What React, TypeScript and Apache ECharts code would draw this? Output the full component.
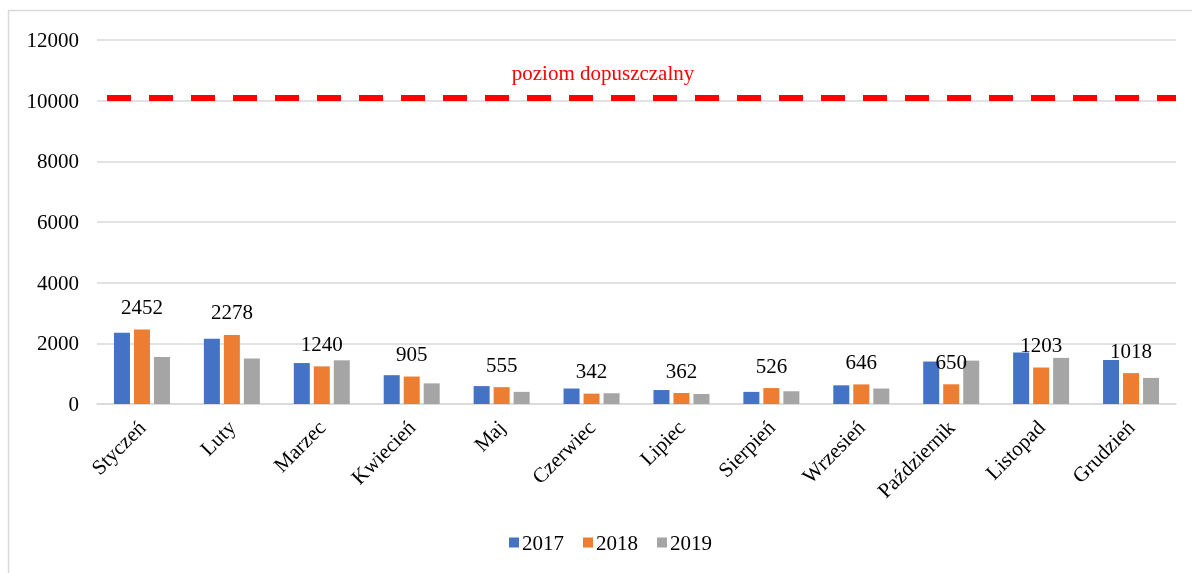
import React, { useEffect, useRef } from "react";
import * as echarts from "echarts";

const categories = ["Styczeń", "Luty", "Marzec", "Kwiecień", "Maj", "Czerwiec", "Lipiec", "Sierpień", "Wrzesień", "Październik", "Listopad", "Grudzień"];
const years = ["2017", "2018", "2019"];
const values2017 = [2350, 2150, 1350, 950, 590, 510, 460, 400, 615, 1400, 1700, 1450];
const values2018 = [2452, 2278, 1240, 905, 555, 342, 362, 526, 646, 650, 1203, 1018];
const values2019 = [1550, 1500, 1440, 680, 400, 355, 330, 420, 510, 1430, 1520, 860];
const limitValue = 10100;
const limitLabel = "poziom dopuszczalny";

const FONT = '"Liberation Serif", "Times New Roman", serif';

export default function App() {
  const ref = useRef<HTMLDivElement>(null);
  useEffect(() => {
    if (!ref.current) return;
    const chart = echarts.init(ref.current, null, { renderer: "svg" });
    const colors = ["#4472C4", "#ED7D31", "#A5A5A5"];
    const seriesData = [values2017, values2018, values2019];
    chart.setOption({
      animation: false,
      color: colors,
      textStyle: { fontFamily: FONT },
      grid: { left: 97, right: 16, top: 40, bottom: 169, containLabel: false },
      graphic: [
        {
          type: "rect",
          shape: { x: 8.5, y: 10.5, width: 1200, height: 600 },
          style: { fill: "none", stroke: "#d9d9d9", lineWidth: 1.5 },
          silent: true,
        },
        {
          type: "text",
          x: 603,
          y: 73,
          style: {
            text: limitLabel,
            fill: "#ff0000",
            font: `21px ${FONT}`,
            textAlign: "center",
            textVerticalAlign: "middle",
          },
        },
      ],
      legend: {
        data: years,
        left: 509,
        top: 532,
        padding: 0,
        itemWidth: 10,
        itemHeight: 10,
        itemGap: 19,
        icon: "rect",
        textStyle: { fontSize: 21, color: "#000", fontFamily: FONT, padding: [0, 0, 0, -2] },
      },
      xAxis: {
        type: "category",
        data: categories,
        axisLine: { lineStyle: { color: "#d9d9d9", width: 1.5 } },
        axisTick: { show: false },
        axisLabel: { interval: 0, rotate: 45, margin: 20, fontSize: 21, color: "#000", fontFamily: FONT },
      },
      yAxis: {
        type: "value",
        min: 0,
        max: 12000,
        interval: 2000,
        axisLine: { show: false },
        axisTick: { show: false },
        axisLabel: {
          margin: 18,
          fontSize: 21,
          color: "#000",
          fontFamily: FONT,
          formatter: (v: number) => String(v),
        },
        splitLine: { lineStyle: { color: "#d9d9d9", width: 1.5 } },
      },
      series: years.map((y, i) => ({
        name: y,
        type: "bar",
        data: seriesData[i],
        barWidth: 16,
        barGap: "25%",
        label:
          i === 1
            ? { show: true, position: "top", distance: 12, fontSize: 21, color: "#000", fontFamily: FONT }
            : { show: false },
        markLine:
          i === 0
            ? {
                silent: true,
                symbol: ["none", "none"],
                label: { show: false },
                lineStyle: { color: "#ff0000", width: 6, type: [24, 18], dashOffset: 32 },
                data: [{ yAxis: limitValue }],
              }
            : undefined,
      })),
    });
    return () => chart.dispose();
  }, []);
  return <div ref={ref} style={{ position: "fixed", left: 0, top: 0, width: 1192, height: 573 }} />;
}
